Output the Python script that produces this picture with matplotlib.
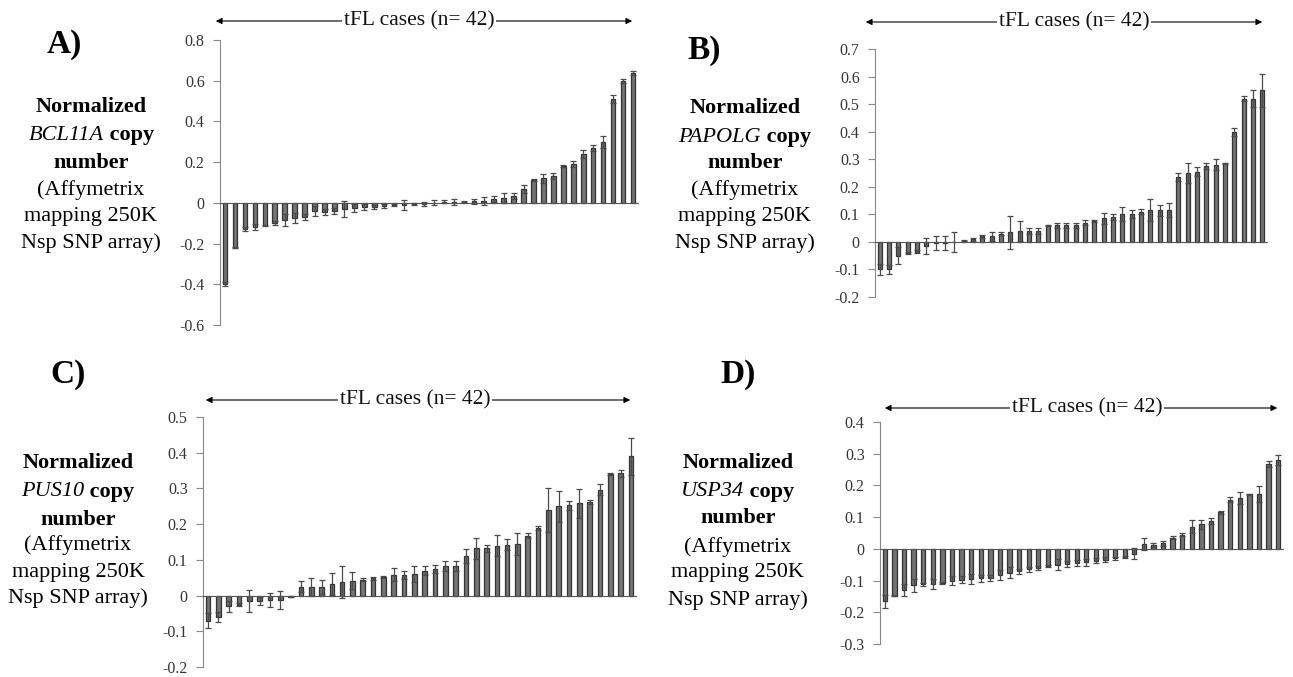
import matplotlib
matplotlib.use("Agg")
import matplotlib.pyplot as plt
import numpy as np

plt.rcParams['font.family'] = ['Liberation Serif', 'DejaVu Serif']

# normalized copy number for the 42 tFL cases, sorted
bcl11a = [-0.40, -0.22, -0.13, -0.12, -0.11, -0.10, -0.085, -0.075, -0.07, -0.04,
          -0.045, -0.04, -0.03, -0.025, -0.02, -0.02, -0.015, -0.012, -0.01, -0.005,
          -0.005, 0.0, 0.005, 0.005, 0.005, 0.008, 0.01, 0.02, 0.025, 0.035,
          0.07, 0.11, 0.12, 0.13, 0.18, 0.19, 0.24, 0.27, 0.30, 0.51,
          0.60, 0.64]
bcl11a_err = [0.01, 0.003, 0.01, 0.015, 0.003, 0.01, 0.03, 0.025, 0.015, 0.025,
              0.015, 0.015, 0.04, 0.02, 0.015, 0.01, 0.01, 0.005, 0.025, 0.005,
              0.01, 0.012, 0.008, 0.015, 0.003, 0.012, 0.02, 0.015, 0.025, 0.015,
              0.02, 0.005, 0.02, 0.015, 0.005, 0.015, 0.02, 0.015, 0.03, 0.02,
              0.01, 0.01]

papolg = [-0.10, -0.10, -0.05, -0.04, -0.035, -0.015, -0.005, -0.005, 0.0, 0.005,
          0.01, 0.02, 0.02, 0.03, 0.035, 0.04, 0.04, 0.04, 0.06, 0.06,
          0.06, 0.06, 0.07, 0.075, 0.085, 0.09, 0.10, 0.10, 0.11, 0.115,
          0.115, 0.115, 0.235, 0.25, 0.255, 0.275, 0.28, 0.285, 0.40, 0.52,
          0.52, 0.55]
papolg_err = [0.02, 0.015, 0.03, 0.005, 0.005, 0.03, 0.025, 0.025, 0.035, 0.003,
              0.005, 0.005, 0.015, 0.005, 0.06, 0.035, 0.01, 0.01, 0.003, 0.01,
              0.01, 0.01, 0.01, 0.003, 0.02, 0.01, 0.025, 0.015, 0.01, 0.04,
              0.02, 0.025, 0.015, 0.035, 0.015, 0.01, 0.02, 0.003, 0.015, 0.01,
              0.03, 0.06]

pus10 = [-0.07, -0.06, -0.03, -0.025, -0.015, -0.015, -0.012, -0.012, -0.003, 0.025,
         0.025, 0.025, 0.032, 0.038, 0.042, 0.045, 0.048, 0.052, 0.058, 0.058,
         0.06, 0.07, 0.075, 0.083, 0.083, 0.11, 0.132, 0.133, 0.14, 0.143,
         0.145, 0.168, 0.19, 0.24, 0.25, 0.253, 0.258, 0.262, 0.297, 0.34,
         0.342, 0.39]
pus10_err = [0.02, 0.015, 0.015, 0.005, 0.03, 0.012, 0.02, 0.025, 0.002, 0.015,
             0.025, 0.02, 0.03, 0.045, 0.023, 0.003, 0.003, 0.003, 0.018, 0.012,
             0.022, 0.012, 0.012, 0.013, 0.015, 0.02, 0.03, 0.01, 0.03, 0.015,
             0.03, 0.007, 0.005, 0.062, 0.044, 0.012, 0.04, 0.005, 0.015, 0.002,
             0.01, 0.052]

usp34 = [-0.165, -0.148, -0.13, -0.115, -0.112, -0.11, -0.108, -0.10, -0.097, -0.095,
         -0.093, -0.092, -0.082, -0.075, -0.07, -0.065, -0.06, -0.055, -0.05, -0.048,
         -0.045, -0.043, -0.038, -0.035, -0.03, -0.027, -0.015, 0.015, 0.012, 0.018,
         0.035, 0.045, 0.07, 0.077, 0.087, 0.115, 0.155, 0.16, 0.172, 0.172,
         0.267, 0.28]
usp34_err = [0.02, 0.002, 0.02, 0.02, 0.005, 0.015, 0.003, 0.015, 0.01, 0.015,
             0.012, 0.01, 0.015, 0.018, 0.008, 0.008, 0.006, 0.003, 0.018, 0.01,
             0.01, 0.01, 0.008, 0.008, 0.005, 0.003, 0.018, 0.018, 0.006, 0.008,
             0.005, 0.005, 0.02, 0.015, 0.01, 0.005, 0.007, 0.018, 0.002, 0.025,
             0.01, 0.015]

W, H = 1293, 677
fig = plt.figure(figsize=(W / 100, H / 100), dpi=100)


def fx(px):
    return px / W


def fy(py):
    return 1 - py / H


def panel(vals, err, left, right, top, bottom, ylim, step):
    ax = fig.add_axes([fx(left), fy(bottom), fx(right - left), (bottom - top) / H])
    x = np.arange(len(vals))
    ax.bar(x, vals, width=0.45, color='#737373', edgecolor='#333333', linewidth=0.9)
    ax.errorbar(x, vals, yerr=err, fmt='none', ecolor='#4a4a4a', elinewidth=0.9,
                capsize=2.5, capthick=0.9)
    ax.set_xlim(-0.5, len(vals) - 0.5)
    ax.set_ylim(*ylim)
    ax.set_yticks(np.round(np.arange(ylim[0], ylim[1] + step / 2, step), 2))
    ax.yaxis.set_major_formatter(plt.FuncFormatter(lambda v, p: '0' if abs(v) < 1e-9 else '%g' % v))
    ax.spines['top'].set_visible(False)
    ax.spines['right'].set_visible(False)
    ax.spines['bottom'].set_position(('data', 0))
    ax.spines['left'].set_color('#888888')
    ax.spines['bottom'].set_color('#555555')
    ax.set_xticks([])
    ax.tick_params(axis='y', direction='out', length=5, color='#888888',
                   labelsize=11.5, labelcolor='#333333', pad=6)
    ax.patch.set_alpha(0)
    return ax


panel(bcl11a, bcl11a_err, 220, 638, 40, 325, (-0.6, 0.8), 0.2)
panel(papolg, papolg_err, 875, 1267, 49, 297, (-0.2, 0.7), 0.1)
panel(pus10, pus10_err, 203, 636, 417, 667, (-0.2, 0.5), 0.1)
panel(usp34, usp34_err, 880, 1283, 422, 644, (-0.3, 0.4), 0.1)


def arrow(x0, x1, y, xc):
    fig.patches.append(matplotlib.patches.FancyArrowPatch(
        (fx(x0), fy(y)), (fx(x1), fy(y)), transform=fig.transFigure,
        arrowstyle='<|-|>', mutation_scale=9, lw=0.8, color='black'))
    fig.text(fx(xc), fy(y), 'tFL cases (n= 42)', ha='center', va='center',
             fontsize=15.5, color='#111111',
             bbox=dict(facecolor='white', edgecolor='none', pad=1.5))


arrow(213, 635, 21, 419)
arrow(863, 1265, 22, 1074)
arrow(203, 633, 400, 415)
arrow(882, 1280, 408, 1087)

for lab, x, y in [('A)', 64, 45), ('B)', 704, 50), ('C)', 68, 374), ('D)', 738, 374)]:
    fig.text(fx(x), fy(y), lab, ha='center', va='center', fontsize=24, fontweight='bold')

renderer = fig.canvas.get_renderer()


def ylabel_block(xc, ys, gene):
    fs = 16
    fig.text(fx(xc), fy(ys[0]), 'Normalized', ha='center', va='center', fontsize=fs, fontweight='bold')
    t1 = fig.text(0, fy(ys[1]), gene, ha='left', va='center', fontsize=fs, style='italic')
    t2 = fig.text(0, fy(ys[1]), ' copy', ha='left', va='center', fontsize=fs, fontweight='bold')
    w1 = t1.get_window_extent(renderer).width
    w2 = t2.get_window_extent(renderer).width
    start = xc - (w1 + w2) / 2
    t1.set_x(fx(start))
    t2.set_x(fx(start + w1))
    fig.text(fx(xc), fy(ys[2]), 'number', ha='center', va='center', fontsize=fs, fontweight='bold')
    for s, yy in zip(['(Affymetrix', 'mapping 250K', 'Nsp SNP array)'], ys[3:]):
        fig.text(fx(xc), fy(yy), s, ha='center', va='center', fontsize=fs)


ylabel_block(91, [107, 135, 163, 190, 217, 243], 'BCL11A')
ylabel_block(745, [108, 137, 163, 190, 217, 243], 'PAPOLG')
ylabel_block(78, [463, 492, 520, 545, 572, 598], 'PUS10')
ylabel_block(738, [463, 492, 518, 547, 573, 600], 'USP34')

fig.savefig('out.png', dpi=100)
